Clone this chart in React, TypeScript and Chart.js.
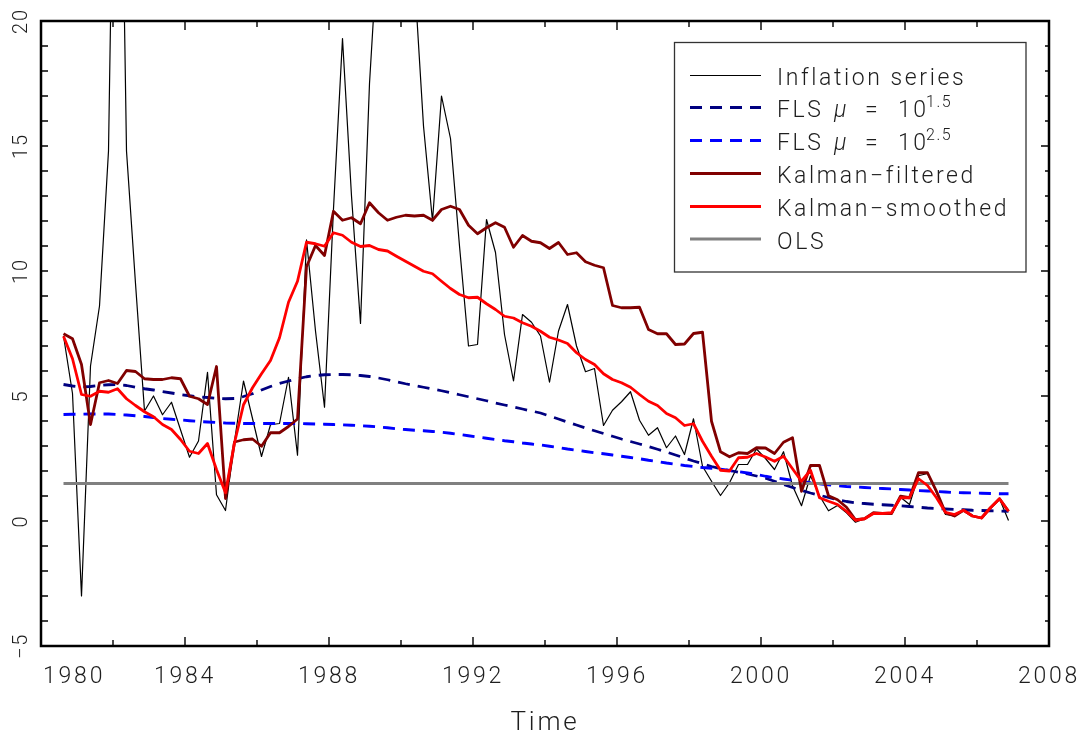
import React, { useEffect, useRef } from "react";
import { Chart, registerables } from "chart.js";

Chart.register(...registerables);

// Quarterly observations, 1980 Q3 to 2006 Q4 (plotted at the middle of each quarter)
const START_TIME = 1980.625;
const PER_YEAR = 4;

const inflation = [
  7.4, 5.1, -3.0, 6.2, 8.6, 14.8, 38.0, 14.8, 9.5, 4.4,
  5.0, 4.25, 4.75, 3.65, 2.55, 3.2, 5.95, 1.05, 0.42, 3.2,
  5.6, 4.1, 2.58, 3.85, 3.9, 5.75, 2.63, 11.25, 7.6, 4.55,
  12.5, 19.3, 13.0, 7.9, 17.5, 23.5, 29.0, 28.0, 25.0, 21.7,
  15.8, 12.0, 17.0, 15.3, 11.0, 7.0, 7.06, 12.06, 10.74, 7.46,
  5.6, 8.26, 7.95, 7.4, 5.55, 7.6, 8.66, 7.0, 5.97, 6.1,
  3.82, 4.43, 4.77, 5.17, 4.03, 3.43, 3.73, 2.93, 3.4, 2.66,
  4.09, 2.19, 1.59, 1.02, 1.53, 2.26, 2.26, 2.88, 2.5, 2.06,
  2.77, 1.41, 0.61, 1.81, 1.01, 0.41, 0.62, 0.33, -0.05, 0.09,
  0.33, 0.26, 0.26, 0.95, 0.66, 1.81, 1.9, 1.13, 0.26, 0.2,
  0.43, 0.19, 0.12, 0.53, 0.89, 0.02,
];

const kalmanFiltered = [
  7.49, 7.29, 6.26, 3.86, 5.53, 5.62, 5.5, 6.02, 5.98, 5.69,
  5.66, 5.66, 5.73, 5.69, 4.99, 4.89, 4.66, 6.18, 0.9, 3.16,
  3.25, 3.28, 2.99, 3.53, 3.53, 3.78, 4.08, 10.17, 11.02, 10.62,
  12.39, 12.03, 12.13, 11.89, 12.73, 12.33, 12.03, 12.15, 12.23, 12.2,
  12.23, 12.03, 12.46, 12.59, 12.46, 11.83, 11.49, 11.73, 11.93, 11.75,
  10.95, 11.42, 11.19, 11.13, 10.9, 11.14, 10.66, 10.73, 10.37, 10.23,
  10.13, 8.62, 8.53, 8.53, 8.55, 7.66, 7.49, 7.49, 7.06, 7.08,
  7.5, 7.55, 3.99, 2.77, 2.57, 2.73, 2.7, 2.93, 2.92, 2.7,
  3.15, 3.33, 1.19, 2.22, 2.22, 1.01, 0.85, 0.55, 0.05, 0.09,
  0.33, 0.3, 0.3, 0.99, 0.93, 1.93, 1.93, 1.19, 0.33, 0.2,
  0.43, 0.2, 0.12, 0.53, 0.89, 0.39,
];

const kalmanSmoothed = [
  7.39, 6.49, 5.06, 4.99, 5.19, 5.15, 5.29, 4.89, 4.62, 4.37,
  4.17, 3.86, 3.66, 3.26, 2.79, 2.7, 3.1, 2.06, 1.13, 3.13,
  4.65, 5.33, 5.89, 6.42, 7.33, 8.75, 9.59, 11.15, 11.09, 10.99,
  11.53, 11.43, 11.15, 10.98, 11.02, 10.86, 10.8, 10.59, 10.39, 10.19,
  9.99, 9.89, 9.59, 9.3, 9.06, 8.93, 8.95, 8.69, 8.46, 8.19,
  8.12, 7.93, 7.79, 7.59, 7.35, 7.24, 7.1, 6.73, 6.46, 6.26,
  5.89, 5.66, 5.53, 5.35, 5.06, 4.79, 4.62, 4.3, 4.13, 3.82,
  3.89, 3.19, 2.59, 2.03, 2.0, 2.53, 2.55, 2.7, 2.56, 2.39,
  2.59, 2.09, 1.59, 2.03, 0.93, 0.79, 0.66, 0.39, 0.03, 0.09,
  0.3, 0.3, 0.33, 0.93, 0.93, 1.69, 1.42, 0.93, 0.35, 0.26,
  0.43, 0.2, 0.12, 0.53, 0.89, 0.39,
];

const flsMu15 = [
  5.46, 5.4, 5.36, 5.38, 5.42, 5.45, 5.46, 5.42, 5.35, 5.29,
  5.24, 5.18, 5.12, 5.06, 5.01, 4.97, 4.94, 4.91, 4.89, 4.9,
  4.98, 5.09, 5.24, 5.38, 5.5, 5.6, 5.69, 5.77, 5.82, 5.85,
  5.86, 5.86, 5.85, 5.82, 5.78, 5.72, 5.65, 5.57, 5.49, 5.42,
  5.35, 5.28, 5.21, 5.13, 5.05, 4.97, 4.89, 4.81, 4.72, 4.64,
  4.56, 4.48, 4.4, 4.32, 4.2, 4.08, 3.96, 3.84, 3.72, 3.61,
  3.5, 3.39, 3.28, 3.18, 3.08, 2.98, 2.87, 2.76, 2.64, 2.52,
  2.4, 2.29, 2.18, 2.09, 2.02, 1.95, 1.88, 1.8, 1.71, 1.59,
  1.46, 1.34, 1.22, 1.12, 1.03, 0.94, 0.85, 0.78, 0.73, 0.7,
  0.67, 0.65, 0.63, 0.61, 0.58, 0.55, 0.52, 0.5, 0.48, 0.46,
  0.45, 0.43, 0.42, 0.41, 0.4, 0.39,
];

const flsMu25 = [
  4.26, 4.27, 4.27, 4.28, 4.28, 4.28, 4.26, 4.24, 4.21, 4.18,
  4.14, 4.1, 4.07, 4.04, 4.01, 3.98, 3.96, 3.94, 3.92, 3.91,
  3.9, 3.9, 3.9, 3.9, 3.9, 3.9, 3.9, 3.89, 3.88, 3.87,
  3.86, 3.85, 3.83, 3.81, 3.79, 3.76, 3.73, 3.69, 3.66, 3.63,
  3.61, 3.58, 3.55, 3.51, 3.46, 3.41, 3.36, 3.31, 3.26, 3.21,
  3.17, 3.12, 3.08, 3.04, 2.99, 2.94, 2.88, 2.83, 2.78, 2.73,
  2.69, 2.64, 2.59, 2.54, 2.49, 2.43, 2.38, 2.32, 2.27, 2.22,
  2.18, 2.14, 2.11, 2.07, 2.02, 1.97, 1.92, 1.86, 1.79, 1.73,
  1.68, 1.63, 1.58, 1.53, 1.49, 1.45, 1.41, 1.38, 1.36, 1.34,
  1.32, 1.3, 1.28, 1.26, 1.24, 1.22, 1.2, 1.18, 1.16, 1.14,
  1.13, 1.12, 1.11, 1.1, 1.09, 1.09,
];

const olsLevel = 1.5;

const xTickYears = [1980, 1982, 1984, 1986, 1988, 1990, 1992, 1994, 1996, 1998, 2000, 2002, 2004, 2006, 2008];
const xLabelYears = [1980, 1984, 1988, 1992, 1996, 2000, 2004, 2008];
const yTickValues = [-5, -4, -3, -2, -1, 0, 1, 2, 3, 4, 5, 6, 7, 8, 9, 10, 11, 12, 13, 14, 15, 16, 17, 18, 19, 20];
const yLabelValues = [-5, 0, 5, 10, 15, 20];
const xTitle = "Time";

const times = inflation.map((_, i) => START_TIME + i / PER_YEAR);
const toPoints = (vals: number[]) => vals.map((v, i) => ({ x: times[i], y: v }));

const COLORS = {
  inflation: "#000000",
  fls15: "#000080",
  fls25: "#0000ff",
  filtered: "#800000",
  smoothed: "#ff0000",
  ols: "#808080",
};

const DASH = [12, 8];
const TEXT = "#1e1e1e";
const FONT = "Roboto, 'Liberation Sans', Arial, sans-serif";
const WEIGHT = 300;

type LegendRow = {
  label: string[];
  color: string;
  width: number;
  dash: number[];
};

const legendRows: LegendRow[] = [
  { label: ["Inflation series"], color: COLORS.inflation, width: 1.2, dash: [] },
  { label: ["FLS", "\u03bc", "=", "10", "1.5"], color: COLORS.fls15, width: 2.8, dash: DASH },
  { label: ["FLS", "\u03bc", "=", "10", "2.5"], color: COLORS.fls25, width: 2.8, dash: DASH },
  { label: ["Kalman\u2212filtered"], color: COLORS.filtered, width: 2.8, dash: [] },
  { label: ["Kalman\u2212smoothed"], color: COLORS.smoothed, width: 2.8, dash: [] },
  { label: ["OLS"], color: COLORS.ols, width: 2.8, dash: [] },
];

const font = (size: number, style = "") => `${style} ${WEIGHT} ${size}px ${FONT}`.trim();

const framePlugin = {
  id: "frameAndLegend",
  afterDraw(chart: any) {
    const { ctx, chartArea: a, scales } = chart;
    const xs = scales.x;
    const ys = scales.y;
    ctx.save();

    // inward tick marks on all four sides
    ctx.strokeStyle = "#000";
    ctx.lineWidth = 1.4;
    ctx.beginPath();
    for (const yr of xTickYears) {
      const px = xs.getPixelForValue(yr);
      const len = yr % 4 === 0 ? 9 : 6;
      ctx.moveTo(px, a.bottom);
      ctx.lineTo(px, a.bottom - len);
      ctx.moveTo(px, a.top);
      ctx.lineTo(px, a.top + len);
    }
    for (const v of yTickValues) {
      const py = ys.getPixelForValue(v);
      ctx.moveTo(a.left, py);
      ctx.lineTo(a.left + 7, py);
      const rl = v % 5 === 0 ? 8 : 4;
      ctx.moveTo(a.right, py);
      ctx.lineTo(a.right - rl, py);
    }
    ctx.stroke();

    // plot frame
    ctx.lineWidth = 2.5;
    ctx.strokeRect(a.left, a.top, a.right - a.left, a.bottom - a.top);

    // x tick labels
    ctx.fillStyle = TEXT;
    ctx.font = font(23);
    (ctx as any).letterSpacing = "2.8px";
    ctx.textBaseline = "alphabetic";
    xLabelYears.forEach((yr, i) => {
      const px = xs.getPixelForValue(yr);
      if (i === 0) {
        ctx.textAlign = "left";
        ctx.fillText(String(yr), px + 2, 683);
      } else {
        ctx.textAlign = "center";
        ctx.fillText(String(yr), px, 683);
      }
    });

    // x axis title
    ctx.font = font(26);
    ctx.textAlign = "center";
    ctx.fillText(xTitle, (a.left + a.right) / 2, 730);

    // y tick labels, rotated
    ctx.font = font(20);
    (ctx as any).letterSpacing = "1.8px";
    for (const v of yLabelValues) {
      const py = ys.getPixelForValue(v);
      ctx.save();
      ctx.translate(27, py);
      ctx.rotate(-Math.PI / 2);
      ctx.textAlign = "center";
      ctx.textBaseline = "alphabetic";
      ctx.fillText(v < 0 ? "\u2212" + Math.abs(v) : String(v), 0, 0);
      ctx.restore();
    }

    // legend
    const box = { left: 674.5, top: 42.5, right: 1026, bottom: 272 };
    ctx.fillStyle = "#fff";
    ctx.fillRect(box.left, box.top, box.right - box.left, box.bottom - box.top);
    ctx.strokeStyle = "#333";
    ctx.lineWidth = 1.3;
    ctx.strokeRect(box.left, box.top, box.right - box.left, box.bottom - box.top);

    const rowBase = [85, 117, 150, 183, 216, 248.5];
    legendRows.forEach((row, i) => {
      const base = rowBase[i];
      const mid = base - 9.5;
      ctx.save();
      ctx.strokeStyle = row.color;
      ctx.lineWidth = row.width;
      ctx.setLineDash(row.dash);
      ctx.beginPath();
      ctx.moveTo(690, mid);
      ctx.lineTo(761, mid);
      ctx.stroke();
      ctx.restore();

      ctx.fillStyle = TEXT;
      ctx.textAlign = "left";
      ctx.textBaseline = "alphabetic";
      ctx.font = font(23);
      (ctx as any).letterSpacing = "2.6px";
      if (row.label.length === 1) {
        ctx.fillText(row.label[0], 777, base);
      } else {
        const [a1, mu, eq, ten, sup] = row.label;
        ctx.fillText(a1, 777, base);
        ctx.font = font(23, "italic");
        ctx.fillText(mu, 834, base);
        ctx.font = font(23);
        ctx.fillText(eq, 865, base);
        ctx.fillText(ten, 898, base);
        ctx.font = font(16);
        (ctx as any).letterSpacing = "1.5px";
        ctx.fillText(sup, 926, base - 10);
      }
    });

    ctx.restore();
  },
};

export default function App() {
  const canvasRef = useRef<HTMLCanvasElement | null>(null);

  useEffect(() => {
    document.body.style.margin = "0";
    const canvas = canvasRef.current;
    if (!canvas) return;

    const chart = new Chart(canvas, {
      type: "line",
      data: {
        datasets: [
          {
            label: "Kalman-smoothed",
            data: toPoints(kalmanSmoothed),
            borderColor: COLORS.smoothed,
            borderWidth: 2.8,
            order: 0,
          },
          {
            label: "Kalman-filtered",
            data: toPoints(kalmanFiltered),
            borderColor: COLORS.filtered,
            borderWidth: 2.8,
            order: 1,
          },
          {
            label: "OLS",
            data: [
              { x: times[0], y: olsLevel },
              { x: times[times.length - 1], y: olsLevel },
            ],
            borderColor: COLORS.ols,
            borderWidth: 2.8,
            order: 2,
          },
          {
            label: "FLS mu = 10^2.5",
            data: toPoints(flsMu25),
            borderColor: COLORS.fls25,
            borderWidth: 2.8,
            borderDash: DASH,
            order: 3,
          },
          {
            label: "FLS mu = 10^1.5",
            data: toPoints(flsMu15),
            borderColor: COLORS.fls15,
            borderWidth: 2.8,
            borderDash: DASH,
            order: 4,
          },
          {
            label: "Inflation series",
            data: toPoints(inflation),
            borderColor: COLORS.inflation,
            borderWidth: 1.2,
            order: 5,
          },
        ],
      },
      options: {
        animation: false,
        responsive: false,
        devicePixelRatio: 1,
        layout: { padding: { left: 41, right: 37, top: 21, bottom: 87 } },
        elements: {
          point: { radius: 0, hoverRadius: 0 },
          line: { tension: 0, borderJoinStyle: "round", borderCapStyle: "butt" },
        },
        scales: {
          x: { type: "linear", min: 1980, max: 2008, display: false },
          y: { type: "linear", min: -5, max: 20, display: false },
        },
        plugins: {
          legend: { display: false },
          tooltip: { enabled: false },
          title: { display: false },
        },
      },
      plugins: [framePlugin],
    });

    return () => chart.destroy();
  }, []);

  return (
    <canvas
      ref={canvasRef}
      width={1086}
      height={733}
      style={{ display: "block", width: 1086, height: 733 }}
    />
  );
}
